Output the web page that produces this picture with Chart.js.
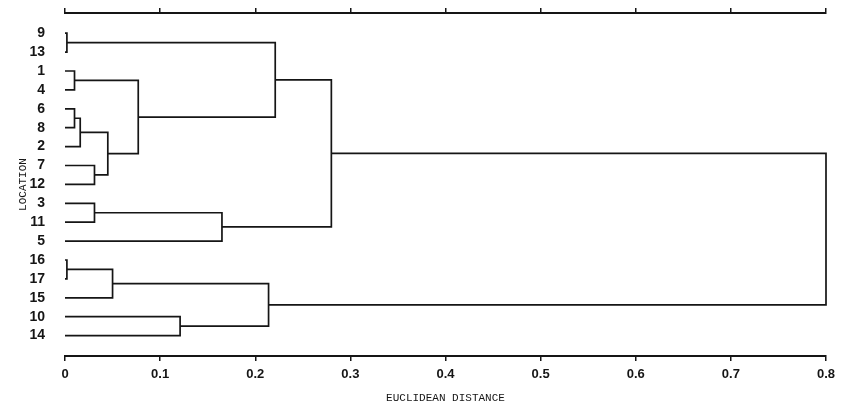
<!DOCTYPE html>
<html>
<head>
<meta charset="utf-8">
<script src="https://cdn.jsdelivr.net/npm/chart.js@4.4.1/dist/chart.umd.min.js"></script>
<style>
  html, body { margin: 0; padding: 0; background: #fff; }
  canvas { display: block; }
</style>
</head>
<body>
<canvas id="dendro" width="851" height="409"></canvas>
<script>
(function () {
    "use strict";

    // leaves, top to bottom
    const leafLabels = ['9', '13', '1', '4', '6', '8', '2', '7', '12', '3', '11', '5', '16', '17', '15', '10', '14'];

    // merges: node ids 0..16 are leaves, merge k gets id 17 + k
    const mergeLeft   = [0, 2, 4, 19, 7, 20, 18, 17, 9, 25, 24, 12, 28, 15, 29, 27];
    const mergeRight  = [1, 3, 5, 6, 8, 21, 22, 23, 10, 11, 26, 13, 14, 16, 30, 31];
    const mergeHeight = [0.002, 0.01, 0.01, 0.016, 0.031, 0.045, 0.077, 0.221, 0.031, 0.165, 0.28, 0.002, 0.05, 0.121, 0.214, 0.8];

    const xTickValues = [0, 0.1, 0.2, 0.3, 0.4, 0.5, 0.6, 0.7, 0.8];
    const xTickLabels = ['0', '0.1', '0.2', '0.3', '0.4', '0.5', '0.6', '0.7', '0.8'];

    const ink = '#151515';

    // node positions
    const nodeX = leafLabels.map(() => 0);
    const nodeY = leafLabels.map((_, i) => i);
    const datasets = [];
    mergeHeight.forEach(function (h, k) {
        const l = mergeLeft[k], r = mergeRight[k];
        datasets.push({
            data: [
                { x: nodeX[l], y: nodeY[l] },
                { x: h, y: nodeY[l] },
                { x: h, y: nodeY[r] },
                { x: nodeX[r], y: nodeY[r] }
            ],
            showLine: true,
            borderColor: ink,
            borderWidth: 1.7,
            pointRadius: 0,
            tension: 0,
            clip: false
        });
        nodeX.push(h);
        nodeY.push((nodeY[l] + nodeY[r]) / 2);
    });

    const setXTicks = function (scale) {
        scale.ticks = xTickValues.map(v => ({ value: v }));
    };

    new Chart(document.getElementById('dendro'), {
        type: 'scatter',
        data: { datasets: datasets },
        options: {
            responsive: false,
            animation: false,
            layout: { padding: { left: 0, right: 25, top: 0, bottom: 0 } },
            plugins: { legend: { display: false }, tooltip: { enabled: false } },
            scales: {
                x: {
                    type: 'linear',
                    position: 'bottom',
                    min: 0,
                    max: 0.8,
                    afterBuildTicks: setXTicks,
                    afterFit: s => { s.height = 53; },
                    ticks: {
                        callback: (v, i) => xTickLabels[i],
                        autoSkip: false,
                        maxRotation: 0,
                        padding: 6,
                        color: ink,
                        font: { family: 'Liberation Sans', size: 13, weight: 'bold' }
                    },
                    grid: { drawOnChartArea: false, drawTicks: true, tickLength: 5, color: ink, lineWidth: 1.5 },
                    border: { display: true, color: ink, width: 2 },
                    title: {
                        display: true,
                        text: 'EUCLIDEAN DISTANCE',
                        color: ink,
                        font: { family: 'Liberation Mono', size: 11 },
                        padding: { top: 2, bottom: 4 }
                    }
                },
                x2: {
                    type: 'linear',
                    position: 'top',
                    min: 0,
                    max: 0.8,
                    afterBuildTicks: setXTicks,
                    afterFit: s => { s.height = 13; },
                    ticks: { callback: () => '', padding: 0, font: { size: 1 } },
                    grid: { drawOnChartArea: false, drawTicks: true, tickLength: 5, color: ink, lineWidth: 1.5 },
                    border: { display: true, color: ink, width: 2 }
                },
                y: {
                    type: 'linear',
                    reverse: true,
                    min: -1.07,
                    max: 17.08,
                    afterBuildTicks: s => { s.ticks = leafLabels.map((_, i) => ({ value: i })); },
                    afterFit: s => { s.width = 65; s.paddingTop = 0; s.paddingBottom = 0; },
                    ticks: {
                        callback: (v, i) => leafLabels[i],
                        autoSkip: false,
                        padding: 12,
                        color: ink,
                        font: { family: 'Liberation Sans', size: 14, weight: 'bold' }
                    },
                    grid: { display: false },
                    border: { display: false },
                    title: {
                        display: true,
                        text: 'LOCATION',
                        color: ink,
                        font: { family: 'Liberation Mono', size: 11 },
                        padding: { top: 16, bottom: 0 }
                    }
                }
            }
        }
    });
})();
</script>
</body>
</html>
